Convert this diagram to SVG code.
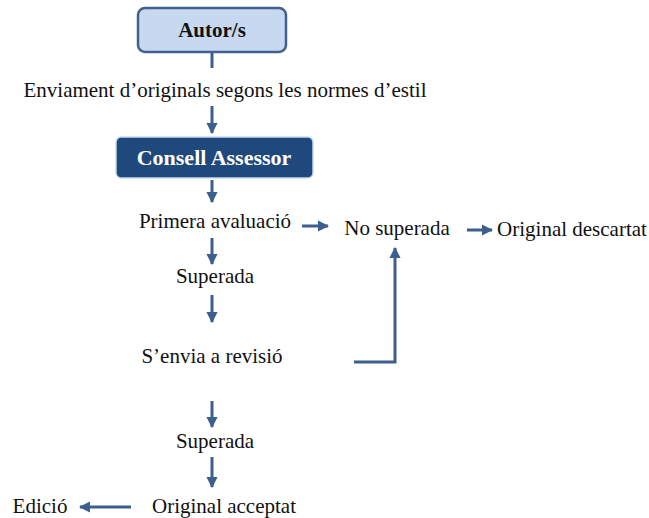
<svg xmlns="http://www.w3.org/2000/svg" width="649" height="518" viewBox="0 0 649 518">
<defs>
<style>
.t{font-family:"Liberation Serif","Times New Roman",serif;font-size:21px;fill:#111;}
.b{font-weight:bold;text-anchor:middle;}
.c{stroke:#3d5f8e;stroke-width:3;fill:none;}
</style>
<marker id="ah" viewBox="0 0 10 10" refX="9" refY="5" markerWidth="3.7" markerHeight="3.7" orient="auto" markerUnits="strokeWidth">
<path d="M0,0 L10,5 L0,10 Z" fill="#3d5f8e"/>
</marker>
</defs>
<rect width="649" height="518" fill="#fff"/>
<g id="connectors">
<line class="c" x1="212" y1="52" x2="212" y2="68"/>
<line class="c" x1="212" y1="106" x2="212" y2="133" marker-end="url(#ah)"/>
<line class="c" x1="212" y1="180" x2="212" y2="202" marker-end="url(#ah)"/>
<line class="c" x1="302" y1="226" x2="328" y2="226" marker-end="url(#ah)"/>
<line class="c" x1="467" y1="230" x2="492" y2="230" marker-end="url(#ah)"/>
<line class="c" x1="212" y1="238" x2="212" y2="264" marker-end="url(#ah)"/>
<line class="c" x1="212" y1="295" x2="212" y2="322" marker-end="url(#ah)"/>
<polyline class="c" points="354,362 395,362 395,248" marker-end="url(#ah)"/>
<line class="c" x1="212" y1="401" x2="212" y2="427" marker-end="url(#ah)"/>
<line class="c" x1="212" y1="457" x2="212" y2="487" marker-end="url(#ah)"/>
<line class="c" x1="131" y1="507" x2="80" y2="507" marker-end="url(#ah)"/>
</g>
<g id="autor">
<rect x="138" y="8" width="148" height="44" rx="7" fill="#c6d9f1" stroke="#41608e" stroke-width="2.5"/>
<text class="t b" x="212" y="37">Autor/s</text>
</g>
<g id="enviament">
<text class="t" x="225" y="97" text-anchor="middle">Enviament d’originals  segons les normes d’estil</text>
</g>
<g id="consell">
<rect x="116" y="137" width="197" height="41" rx="5" fill="#1f497d" stroke="#c6d9f1" stroke-width="1.5"/>
<text class="t b" x="214" y="165" style="fill:#fff;font-size:22px">Consell Assessor</text>
</g>
<g id="primera">
<text class="t" x="215" y="228" text-anchor="middle">Primera avaluació</text>
</g>
<g id="nosuperada">
<text class="t" x="397" y="235" text-anchor="middle">No superada</text>
</g>
<g id="descartat">
<text class="t" x="572" y="236" text-anchor="middle">Original  descartat</text>
</g>
<g id="superada1">
<text class="t" x="215" y="283" text-anchor="middle">Superada</text>
</g>
<g id="revisio">
<text class="t" x="212" y="363" text-anchor="middle">S’envia a revisió</text>
</g>
<g id="superada2">
<text class="t" x="215" y="448" text-anchor="middle">Superada</text>
</g>
<g id="acceptat">
<text class="t" x="224" y="513" text-anchor="middle">Original  acceptat</text>
</g>
<g id="edicio">
<text class="t" x="40" y="513" text-anchor="middle">Edició</text>
</g>
</svg>
